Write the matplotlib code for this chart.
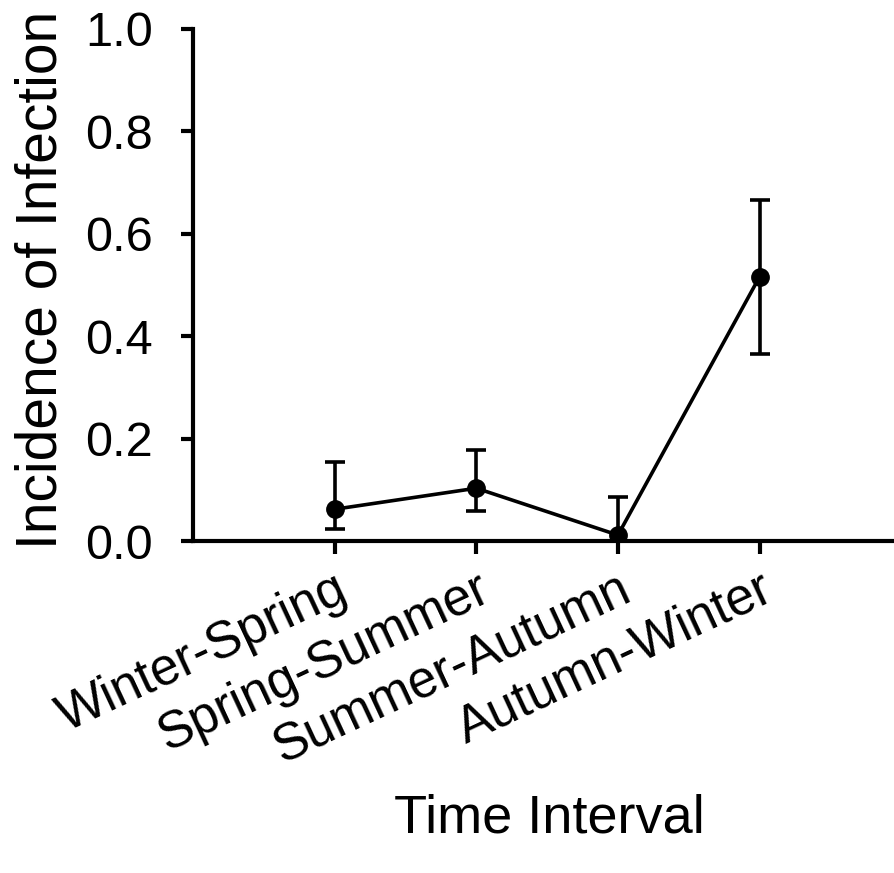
import matplotlib
matplotlib.use("Agg")
import matplotlib.pyplot as plt
import numpy as np

plt.rcParams['font.family'] = ['Liberation Sans', 'DejaVu Sans']

# Data
intervals = ["Winter-Spring", "Spring-Summer", "Summer-Autumn", "Autumn-Winter"]
incidence = [0.0625, 0.1035, 0.012, 0.516]
ci_low = [0.023, 0.0586, 0.0, 0.365]
ci_high = [0.155, 0.178, 0.0865, 0.666]

x = np.arange(1, len(intervals) + 1)
y = np.array(incidence)
yerr = [y - np.array(ci_low), np.array(ci_high) - y]

fig = plt.figure(figsize=(8.94, 8.73), dpi=100)
ax = fig.add_axes([0.216, 0.380, 0.792, 0.587])

ax.errorbar(x, y, yerr=yerr, fmt='o-', color='black', lw=2.6,
            markersize=12.5, elinewidth=2.6, capsize=7, capthick=2.6,
            zorder=3)

ax.set_xlim(0, 5)
ax.set_ylim(0, 1.0)
ax.set_yticks([0.0, 0.2, 0.4, 0.6, 0.8, 1.0])
ax.set_yticklabels(["0.0", "0.2", "0.4", "0.6", "0.8", "1.0"])
ax.set_xticks(x)
ax.set_xticklabels(intervals, rotation=25, ha='right', va='top',
                   rotation_mode='anchor')

for s in ['top', 'right']:
    ax.spines[s].set_visible(False)
for s in ['left', 'bottom']:
    ax.spines[s].set_linewidth(3)

ax.tick_params(axis='y', length=9, width=3, labelsize=35, pad=20)
ax.tick_params(axis='x', length=9, width=3, labelsize=37, pad=8)

ax.set_ylabel("Incidence of Infection", fontsize=41)
ax.yaxis.set_label_coords(-0.176, 0.51)
fig.text(0.615, 0.063, "Time Interval", fontsize=39, ha='center', va='center')

fig.savefig("out.png", dpi=100)
